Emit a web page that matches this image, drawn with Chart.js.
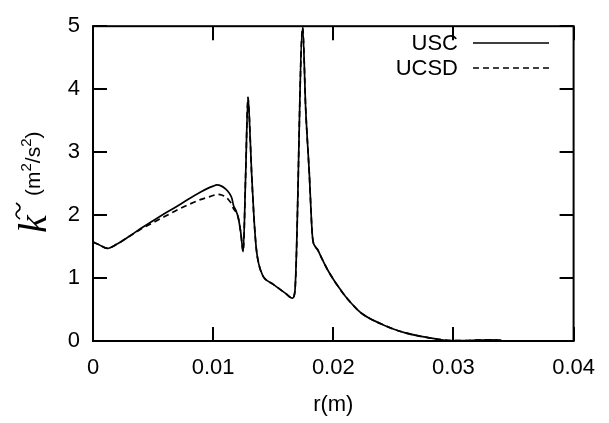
<!DOCTYPE html>
<html>
<head>
<meta charset="utf-8">
<script src="https://cdn.jsdelivr.net/npm/chart.js@4/dist/chart.umd.min.js"></script>
<style>
  html, body { margin: 0; padding: 0; background: #fff; }
  #tke { display: block; }
</style>
</head>
<body>
<canvas id="tke" width="609" height="423"></canvas>
<script>
// radial positions (m)
const rValues = [
  0, 0.0005, 0.0012, 0.002, 0.003, 0.004, 0.005, 0.006, 0.007, 0.008,
  0.009, 0.0095, 0.0100, 0.0103, 0.0107, 0.0110, 0.0113, 0.01155, 0.0117, 0.0119,
  0.0121, 0.0123, 0.0125, 0.0127, 0.0129, 0.0130, 0.0132, 0.0134, 0.0136, 0.0138,
  0.0141, 0.0143, 0.0150, 0.0160, 0.0166, 0.0168, 0.01745, 0.0177, 0.0180, 0.01827,
  0.0185, 0.0187, 0.0190, 0.0195, 0.0200, 0.0205, 0.0210, 0.0215, 0.0220, 0.0225,
  0.0230, 0.0240, 0.0250, 0.0260, 0.0270, 0.0280, 0.0290, 0.0300, 0.0310, 0.0320,
  0.0330, 0.0340
];
// turbulent kinetic energy, USC model
const uscK = [
  1.57, 1.53, 1.47, 1.54, 1.66, 1.79, 1.91, 2.03, 2.14, 2.26,
  2.37, 2.42, 2.46, 2.48, 2.46, 2.42, 2.36, 2.27, 2.15, 2.07,
  1.95, 1.72, 1.42, 2.60, 3.87, 3.60, 2.67, 1.95, 1.45, 1.22,
  1.05, 0.99, 0.90, 0.76, 0.68, 0.78, 4.98, 3.70, 2.67, 1.65,
  1.50, 1.45, 1.33, 1.14, 0.98, 0.84, 0.71, 0.60, 0.50, 0.42,
  0.36, 0.27, 0.19, 0.13, 0.085, 0.05, 0.02, 0.005, 0.005, 0.015,
  0.02, 0.01
];
// turbulent kinetic energy, UCSD model
const ucsdK = [
  1.57, 1.53, 1.47, 1.54, 1.66, 1.78, 1.88, 1.98, 2.08, 2.17,
  2.25, 2.28, 2.31, 2.33, 2.32, 2.29, 2.24, 2.17, 2.10, 2.05,
  1.95, 1.72, 1.42, 2.60, 3.87, 3.60, 2.67, 1.95, 1.45, 1.22,
  1.05, 0.99, 0.90, 0.76, 0.68, 0.78, 4.98, 3.70, 2.67, 1.65,
  1.50, 1.45, 1.33, 1.14, 0.98, 0.84, 0.71, 0.60, 0.50, 0.42,
  0.36, 0.27, 0.19, 0.13, 0.085, 0.05, 0.02, 0.005, 0.005, 0.015,
  0.02, 0.01
];
const seriesNames = ['USC', 'UCSD'];
const xTicks = [0, 0.01, 0.02, 0.03, 0.04];
const yTicks = [0, 1, 2, 3, 4, 5];

const FONT = '"Liberation Sans", Arial, sans-serif';
const SERIF = '"Liberation Serif", serif';

// frame with inward ticks on all four sides
const frameTicks = {
  id: 'frameTicks',
  afterDraw(chart) {
    const { ctx, chartArea: a, scales } = chart;
    const len = 14;
    ctx.save();
    ctx.strokeStyle = '#000';
    ctx.lineWidth = 2;
    ctx.beginPath();
    xTicks.forEach(v => {
      const px = Math.round(scales.x.getPixelForValue(v));
      ctx.moveTo(px, a.bottom); ctx.lineTo(px, a.bottom - len);
      ctx.moveTo(px, a.top); ctx.lineTo(px, a.top + len);
    });
    yTicks.forEach(v => {
      const py = Math.round(scales.y.getPixelForValue(v));
      ctx.moveTo(a.left, py); ctx.lineTo(a.left + len, py);
      ctx.moveTo(a.right, py); ctx.lineTo(a.right - len, py);
    });
    ctx.stroke();
    ctx.strokeRect(a.left, a.top, a.right - a.left, a.bottom - a.top);
    ctx.restore();
  }
};

// y axis title: k with tilde, then (m^2/s^2)
const yTitle = {
  id: 'yTitle',
  afterDraw(chart) {
    const ctx = chart.ctx;
    ctx.save();
    ctx.translate(0, 233);
    ctx.rotate(-Math.PI / 2);
    ctx.fillStyle = '#000';
    ctx.strokeStyle = '#000';
    ctx.textAlign = 'left';
    ctx.textBaseline = 'alphabetic';

    ctx.font = 'italic 40px ' + SERIF;
    ctx.fillText('k', 0, 46);
    // tilde over the k
    ctx.lineWidth = 1.6;
    ctx.beginPath();
    ctx.moveTo(14, 20);
    ctx.bezierCurveTo(17, 15, 20, 15, 22, 18);
    ctx.bezierCurveTo(24, 21, 27, 21, 30, 16);
    ctx.stroke();

    // units with raised exponents
    const big = '21px ' + FONT;
    const small = '15px ' + FONT;
    let x = 37;
    const base = 40;
    ctx.font = big;
    ctx.fillText('(m', x, base);
    x += ctx.measureText('(m').width;
    ctx.font = small;
    ctx.fillText('2', x, base - 9);
    x += ctx.measureText('2').width;
    ctx.font = big;
    ctx.fillText('/s', x, base);
    x += ctx.measureText('/s').width;
    ctx.font = small;
    ctx.fillText('2', x, base - 9);
    x += ctx.measureText('2').width;
    ctx.font = big;
    ctx.fillText(')', x, base);
    ctx.restore();
  }
};

// legend: label text right-aligned, line sample to its right
const keyBox = {
  id: 'keyBox',
  afterDraw(chart) {
    const { ctx } = chart;
    const rows = [43, 68];
    ctx.save();
    ctx.font = '22px ' + FONT;
    ctx.fillStyle = '#000';
    ctx.textAlign = 'right';
    ctx.textBaseline = 'middle';
    seriesNames.forEach((name, i) => {
      const ds = chart.data.datasets.find(d => d.label === name);
      ctx.fillText(name, 458, rows[i] + 1);
      ctx.strokeStyle = ds.borderColor;
      ctx.lineWidth = ds.borderWidth;
      ctx.setLineDash(ds.borderDash || []);
      ctx.beginPath();
      ctx.moveTo(473, rows[i]);
      ctx.lineTo(549, rows[i]);
      ctx.stroke();
    });
    ctx.restore();
  }
};

const toPoints = ks => rValues.map((r, i) => ({ x: r, y: ks[i] }));

new Chart(document.getElementById('tke'), {
  type: 'line',
  data: {
    datasets: [
      {
        label: seriesNames[1],
        data: toPoints(ucsdK),
        borderColor: '#000',
        borderWidth: 1.7,
        borderDash: [6, 4],
        pointRadius: 0,
        cubicInterpolationMode: 'monotone',
        order: 2
      },
      {
        label: seriesNames[0],
        data: toPoints(uscK),
        borderColor: '#000',
        borderWidth: 1.7,
        pointRadius: 0,
        cubicInterpolationMode: 'monotone',
        order: 1
      }
    ]
  },
  options: {
    responsive: false,
    animation: false,
    layout: { padding: { top: 15, right: 30, left: 0, bottom: 0 } },
    plugins: { legend: { display: false }, tooltip: { enabled: false } },
    scales: {
      x: {
        type: 'linear',
        min: 0, max: 0.04,
        afterBuildTicks: s => { s.ticks = xTicks.map(v => ({ value: v })); },
        afterFit: s => { s.height = 82; },
        grid: { display: false, drawTicks: false },
        border: { display: false },
        ticks: {
          color: '#000',
          padding: 14,
          maxRotation: 0,
          font: { family: FONT, size: 22 },
          callback: v => v === 0 ? '0' : v.toFixed(2)
        },
        title: {
          display: true,
          text: 'r(m)',
          color: '#000',
          font: { family: FONT, size: 22 },
          padding: { top: 0, bottom: 5 }
        }
      },
      y: {
        min: 0, max: 5,
        afterBuildTicks: s => { s.ticks = yTicks.map(v => ({ value: v })); },
        afterFit: s => { s.width = 93; },
        grid: { display: false, drawTicks: false },
        border: { display: false },
        ticks: {
          color: '#000',
          padding: 13,
          font: { family: FONT, size: 22 },
          callback: v => String(v)
        }
      }
    }
  },
  plugins: [frameTicks, yTitle, keyBox]
});
</script>
</body>
</html>
